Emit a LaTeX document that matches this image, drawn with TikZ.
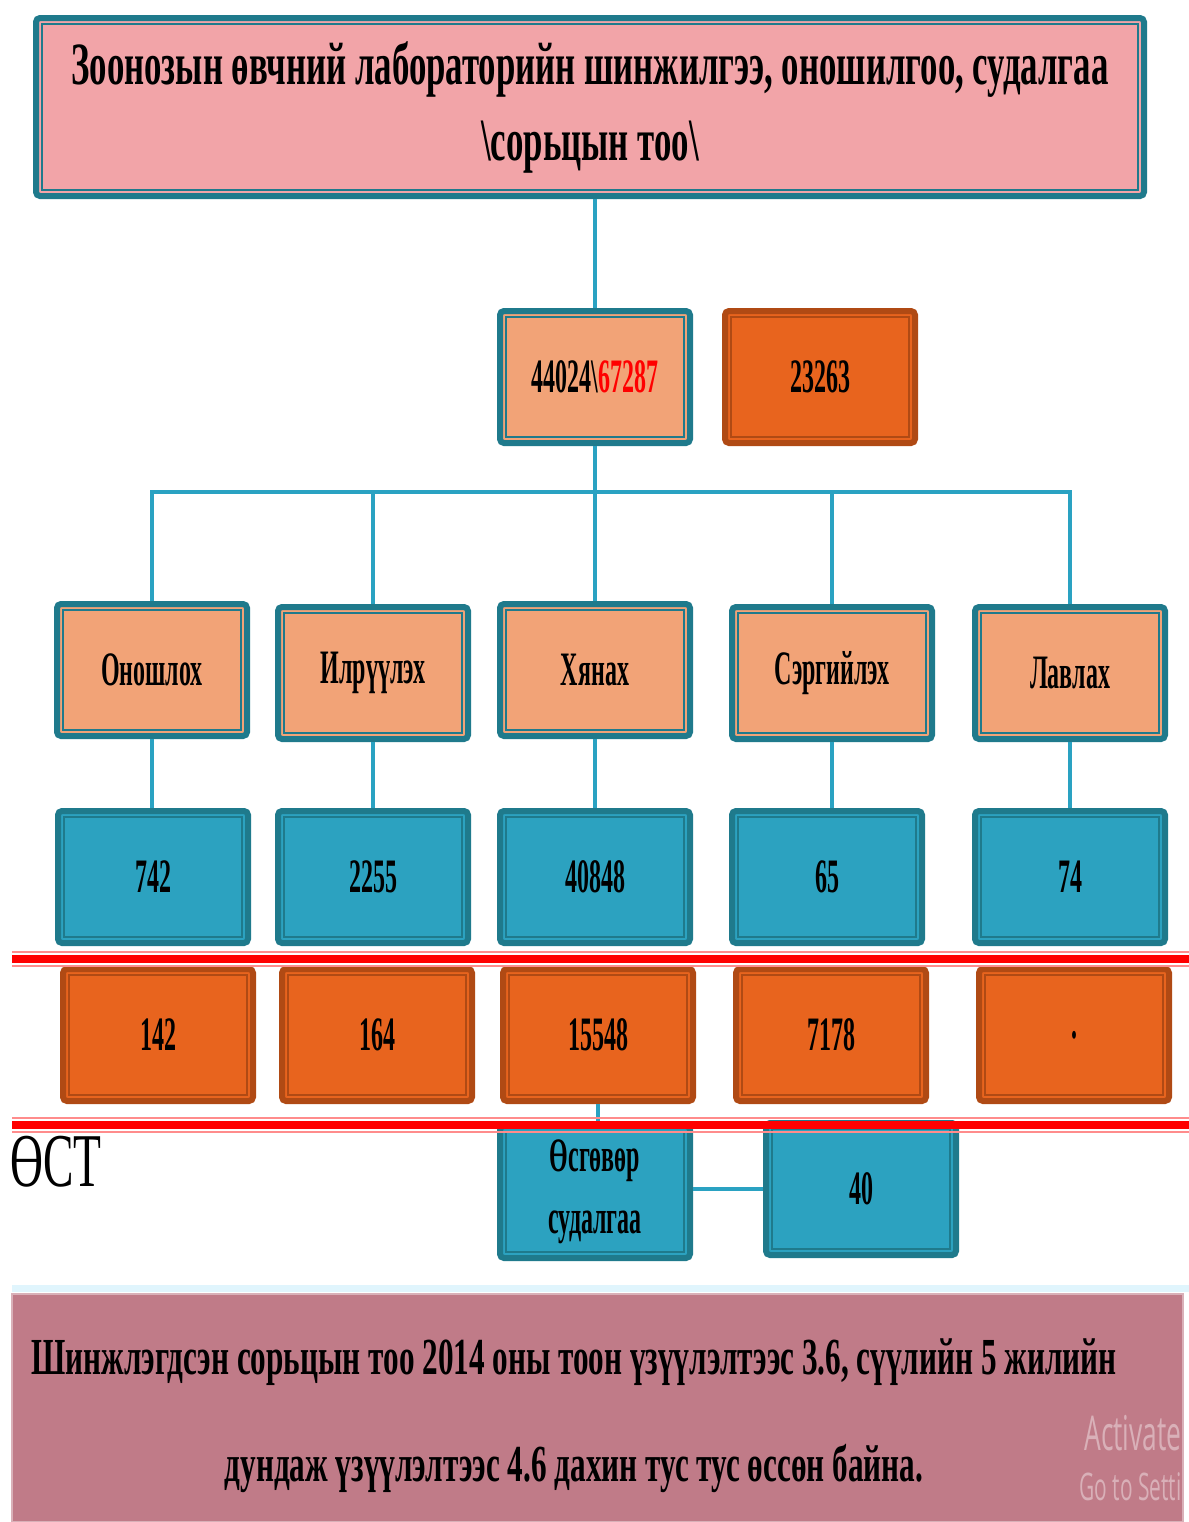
\documentclass[tikz,border=0pt]{standalone}
\usepackage{fontspec}
\setmainfont{Liberation Serif}[FakeStretch=0.5]
\newfontfamily\widefont{Liberation Serif}[FakeStretch=0.6]
\newfontfamily\titlefont{Liberation Serif}[FakeStretch=0.58]
\newfontfamily\wmfont{Open Sans}[FakeStretch=0.55]
\usepackage{xcolor}

\definecolor{tealedge}{HTML}{1F7A8C}
\definecolor{bluefill}{HTML}{2CA2C0}
\definecolor{salmon}{HTML}{F2A377}
\definecolor{orangefill}{HTML}{E8641E}
\definecolor{orangeedge}{HTML}{B04A14}
\definecolor{pinkfill}{HTML}{F2A4A8}
\definecolor{mauve}{HTML}{C07B88}
\definecolor{linkblue}{HTML}{2AA2C2}

\tikzset{
    box/.style={draw, line width=3pt, rounded corners=2pt, minimum width=95pt,
        minimum height=66pt, inner sep=0pt, align=center,
        font=\bfseries\fontsize{24}{27}\selectfont},
    sbox/.style={box, draw=tealedge, fill=salmon},
    bbox/.style={box, draw=tealedge, fill=bluefill},
    obox/.style={box, draw=orangeedge, fill=orangefill},
    link/.style={draw=linkblue, line width=2pt},
    frame/.style={line width=0.7pt},
    redline/.style={draw=red, line width=4pt},
    rededge/.style={draw=red!45, line width=0.8pt},
}

\begin{document}
\begin{tikzpicture}[x=0.5pt, y=-0.5pt]
    \useasboundingbox[fill=white] (0,0) rectangle (1189,1522);

    % title
    \node[box, draw=tealedge, fill=pinkfill, minimum width=554pt, minimum height=89pt,
        font=\titlefont\bfseries\fontsize{30}{38}\selectfont] (title) at (590,107)
        {Зоонозын өвчний лабораторийн шинжилгээ, оношилгоо, судалгаа\\ \textbackslash сорьцын тоо\textbackslash};

    \node[sbox] (total) at (595,377) {44024\textbackslash\textcolor{red}{67287}};
    \node[obox] (extra) at (820,377) {23263};

    % row of tasks
    \node[sbox] (onosh) at (152,670) {Оношлох};
    \node[sbox] (ilr) at (373,673) {Илрүүлэх};
    \node[sbox] (khyan) at (595,670) {Хянах};
    \node[sbox, minimum width=100pt] (serg) at (832,673) {Сэргийлэх};
    \node[sbox] (lavl) at (1070,673) {Лавлах};

    % counts
    \node[bbox] (n1) at (153,877) {742};
    \node[bbox] (n2) at (373,877) {2255};
    \node[bbox] (n3) at (595,877) {40848};
    \node[bbox] (n4) at (827,877) {65};
    \node[bbox] (n5) at (1070,877) {74};

    \node[obox] (m1) at (158,1035) {142};
    \node[obox] (m2) at (377,1035) {164};
    \node[obox] (m3) at (598,1035) {15548};
    \node[obox] (m4) at (831,1035) {7178};
    \node[obox] (m5) at (1074,1035) {.};

    \node[bbox, font=\bfseries\fontsize{24}{31}\selectfont] (usg) at (595,1192) {Өсгөвөр\\судалгаа};
    \node[bbox] (s40) at (861,1189) {40};

    \node[anchor=north west, inner sep=0pt, font=\widefont\fontsize{38}{40}\selectfont] (ost) at (10,1136) {ӨСТ};

    % inner frames
    \foreach \n/\c in {title/tealedge, total/tealedge, extra/orangeedge, onosh/tealedge,
        ilr/tealedge, khyan/tealedge, serg/tealedge, lavl/tealedge, n1/tealedge,
        n2/tealedge, n3/tealedge, n4/tealedge, n5/tealedge, m1/orangeedge,
        m2/orangeedge, m3/orangeedge, m4/orangeedge, m5/orangeedge, usg/tealedge,
        s40/tealedge}
        \draw[frame, draw=\c] ([shift={(4.5pt,4.5pt)}]\n.south west) rectangle ([shift={(-4.5pt,-4.5pt)}]\n.north east);

    % connectors
    \coordinate (bus) at (595,492);
    \draw[link] (total.north |- title.south) -- (total.north);
    \draw[link] (total.south) -- (bus);
    \foreach \n in {onosh, ilr, khyan, serg, lavl}
        \draw[link] (bus) -| (\n.north);
    \foreach \a/\b in {onosh/n1, ilr/n2, khyan/n3, serg/n4, lavl/n5}
        \draw[link] (\a.south) -- (\a.south |- \b.north);
    \draw[link] (m3.south) -- (m3.south |- usg.north);
    \draw[link] (usg.east |- s40.west) -- (s40.west);

    % red rules
    \foreach \y in {959, 1125} {
        \draw[redline] (12,\y) -- (1189,\y);
        \draw[rededge] (12,\y-7) -- (1189,\y-7);
        \draw[rededge] (12,\y+7) -- (1189,\y+7);
    }

    % summary
    \fill[cyan!12] (12,1285) rectangle (1189,1292);
    \filldraw[fill=mauve, draw=mauve!60, line width=1pt] (12,1294) rectangle (1183,1522);
    \node[font=\widefont\bfseries\fontsize{26}{53.5}\selectfont, align=center] (summary) at (574,1416)
        {Шинжлэгдсэн сорьцын тоо 2014 оны тоон үзүүлэлтээс 3.6, сүүлийн 5 жилийн\\
         дундаж үзүүлэлтээс 4.6 дахин тус тус өссөн байна.};
    \node[anchor=east, inner sep=0pt, text=mauve!60!white, font=\wmfont\fontsize{24}{26}\selectfont] (wm1) at (1182,1433) {Activate};
    \node[anchor=east, inner sep=0pt, text=mauve!60!white, font=\wmfont\fontsize{19}{20}\selectfont] (wm2) at (1182,1487) {Go to Setti};
\end{tikzpicture}
\end{document}
